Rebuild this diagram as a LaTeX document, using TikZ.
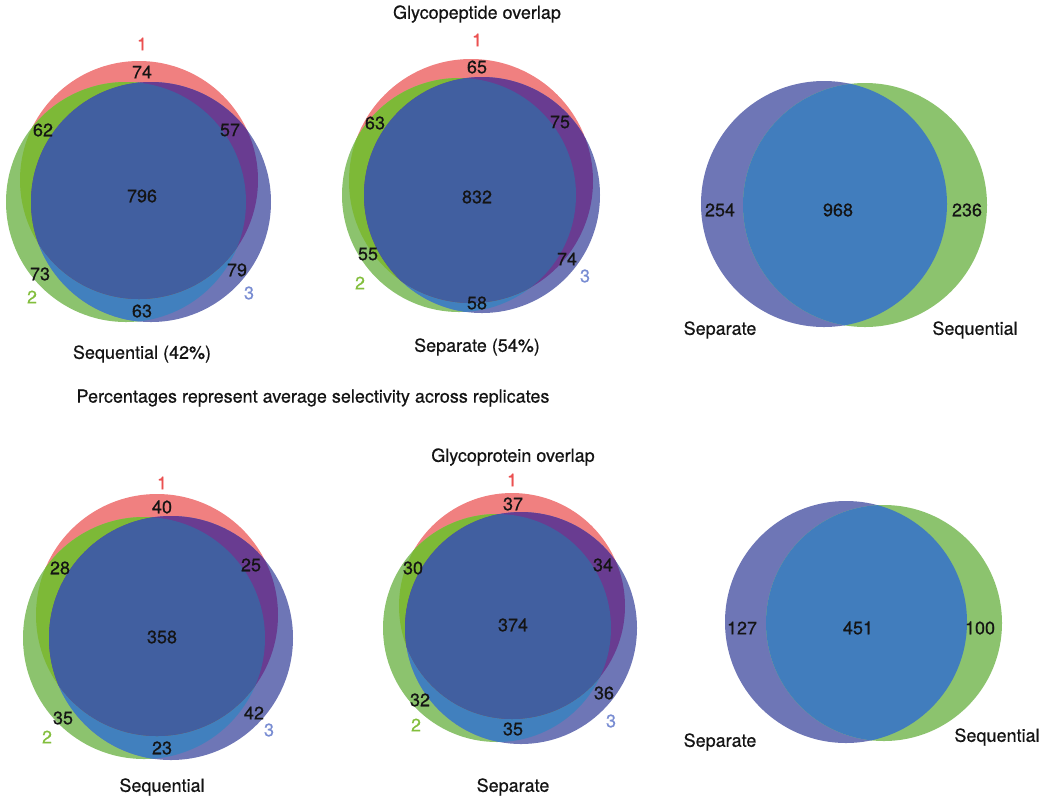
\documentclass[tikz,border=0pt]{standalone}
\usepackage{fontspec}
\setmainfont{TeX Gyre Heros}
\newfontfamily\vennfont{TeX Gyre Heros}[FakeBold=0.6]
\definecolor{onlyA}{HTML}{F08080}
\definecolor{onlyB}{HTML}{8CC36E}
\definecolor{onlyC}{HTML}{6E76B6}
\definecolor{capAB}{HTML}{7DB937}
\definecolor{capAC}{HTML}{693C91}
\definecolor{capBC}{HTML}{4180BE}
\definecolor{capABC}{HTML}{415FA0}
\definecolor{capSS}{HTML}{417DBD}
\definecolor{lblA}{HTML}{EB5050}
\definecolor{lblB}{HTML}{82BE3C}
\definecolor{lblC}{HTML}{788CD2}
% #1,#2,#3 = set 1 (x, y, r); #4,#5,#6 = set 2; #7,#8,#9 = set 3
\newcommand{\triVenn}[9]{%
  \fill[onlyA] (#1,#2) circle (#3);
  \fill[onlyB] (#4,#5) circle (#6);
  \fill[onlyC] (#7,#8) circle (#9);
  \begin{scope}\clip (#4,#5) circle (#6); \fill[capBC] (#7,#8) circle (#9);\end{scope}
  \begin{scope}\clip (#1,#2) circle (#3); \fill[capAB] (#4,#5) circle (#6);\end{scope}
  \begin{scope}\clip (#1,#2) circle (#3); \fill[capAC] (#7,#8) circle (#9);\end{scope}
  \begin{scope}\clip (#1,#2) circle (#3); \clip (#4,#5) circle (#6);
    \fill[capABC] (#7,#8) circle (#9);\end{scope}}
% #1,#2,#3 = separate (x, y, r); #4,#5,#6 = sequential
\newcommand{\duoVenn}[6]{%
  \fill[onlyC] (#1,#2) circle (#3);
  \fill[onlyB] (#4,#5) circle (#6);
  \begin{scope}\clip (#1,#2) circle (#3); \fill[capSS] (#4,#5) circle (#6);\end{scope}}

\begin{document}
\begin{tikzpicture}[
  x=0.5pt, y=-0.5pt,
  txt/.style={font=\vennfont\fontsize{9}{10}\selectfont, inner sep=0pt, text=black!92},
  num/.style={txt},
  setA/.style={txt, text=lblA},
  setB/.style={txt, text=lblB},
  setC/.style={txt, text=lblC},
]
  \useasboundingbox (0,0) rectangle (1050,805);

  % ---------------- glycopeptide, sequential
  \triVenn{139}{180}{119}{126}{202}{120}{151}{202}{120}
  \node[setA] (pqOne) at (142,44) {1};
  \node[setB] (pqTwo) at (32,297) {2};
  \node[setC] (pqThree) at (249,293) {3};
  \node[num] (pqA) at (142,72) {74};
  \node[num] (pqAB) at (43,130) {62};
  \node[num] (pqAC) at (230,130) {57};
  \node[num] (pqABC) at (142,196) {796};
  \node[num] (pqB) at (40,274) {73};
  \node[num] (pqC) at (237,270) {79};
  \node[num] (pqBC) at (142,311) {63};
  \node[txt] (pqCap) at (142,354) {Sequential (42\%)};

  % ---------------- glycopeptide, separate
  \node[txt] (pepTitle) at (477,14) {Glycopeptide overlap};
  \triVenn{471}{181}{122}{459}{195}{117}{482}{195}{118}
  \node[setA] (psOne) at (477,40) {1};
  \node[setB] (psTwo) at (360,283) {2};
  \node[setC] (psThree) at (585,276) {3};
  \node[num] (psA) at (477,67) {65};
  \node[num] (psAB) at (375,123) {63};
  \node[num] (psAC) at (560,122) {75};
  \node[num] (psABC) at (477,197) {832};
  \node[num] (psB) at (368,254) {55};
  \node[num] (psC) at (567,259) {74};
  \node[num] (psBC) at (477,303) {58};
  \node[txt] (psCap) at (477,347) {Separate (54\%)};

  % ---------------- glycopeptide, separate vs sequential
  \duoVenn{824}{204}{123}{865}{205}{122}
  \node[num] (pvSep) at (720,210) {254};
  \node[num] (pvBoth) at (838,210) {968};
  \node[num] (pvSeq) at (967,210) {236};
  \node[txt] (pvSepCap) at (720,330) {Separate};
  \node[txt] (pvSeqCap) at (975,330) {Sequential};

  \node[txt] (note) at (313,398) {Percentages represent average selectivity across replicates};

  % ---------------- glycoprotein, sequential
  \triVenn{157}{615}{121}{144}{638}{121}{171}{638}{122}
  \node[setA] (rqOne) at (162,483) {1};
  \node[setB] (rqTwo) at (47,737) {2};
  \node[setC] (rqThree) at (269,730) {3};
  \node[num] (rqA) at (162,507) {40};
  \node[num] (rqAB) at (60,568) {28};
  \node[num] (rqAC) at (251,565) {25};
  \node[num] (rqABC) at (162,637) {358};
  \node[num] (rqB) at (63,718) {35};
  \node[num] (rqC) at (254,713) {42};
  \node[num] (rqBC) at (162,748) {23};
  \node[txt] (rqCap) at (162,787) {Sequential};

  % ---------------- glycoprotein, separate
  \node[txt] (protTitle) at (513,457) {Glycoprotein overlap};
  \triVenn{512}{606}{113}{497}{628}{114}{521}{628}{116}
  \node[setA] (rsOne) at (512,480) {1};
  \node[setB] (rsTwo) at (416,725) {2};
  \node[setC] (rsThree) at (611,721) {3};
  \node[num] (rsA) at (513,504) {37};
  \node[num] (rsAB) at (413,568) {30};
  \node[num] (rsAC) at (603,565) {34};
  \node[num] (rsABC) at (513,625) {374};
  \node[num] (rsB) at (420,700) {32};
  \node[num] (rsC) at (604,693) {36};
  \node[num] (rsBC) at (513,729) {35};
  \node[txt] (rsCap) at (513,787) {Separate};

  % ---------------- glycoprotein, separate vs sequential
  \duoVenn{846}{622}{121}{884}{623}{118}
  \node[num] (rvSep) at (742,628) {127};
  \node[num] (rvBoth) at (858,628) {451};
  \node[num] (rvSeq) at (980,628) {100};
  \node[txt] (rvSepCap) at (720,742) {Separate};
  \node[txt] (rvSeqCap) at (997,737) {Sequential};
\end{tikzpicture}
\end{document}
